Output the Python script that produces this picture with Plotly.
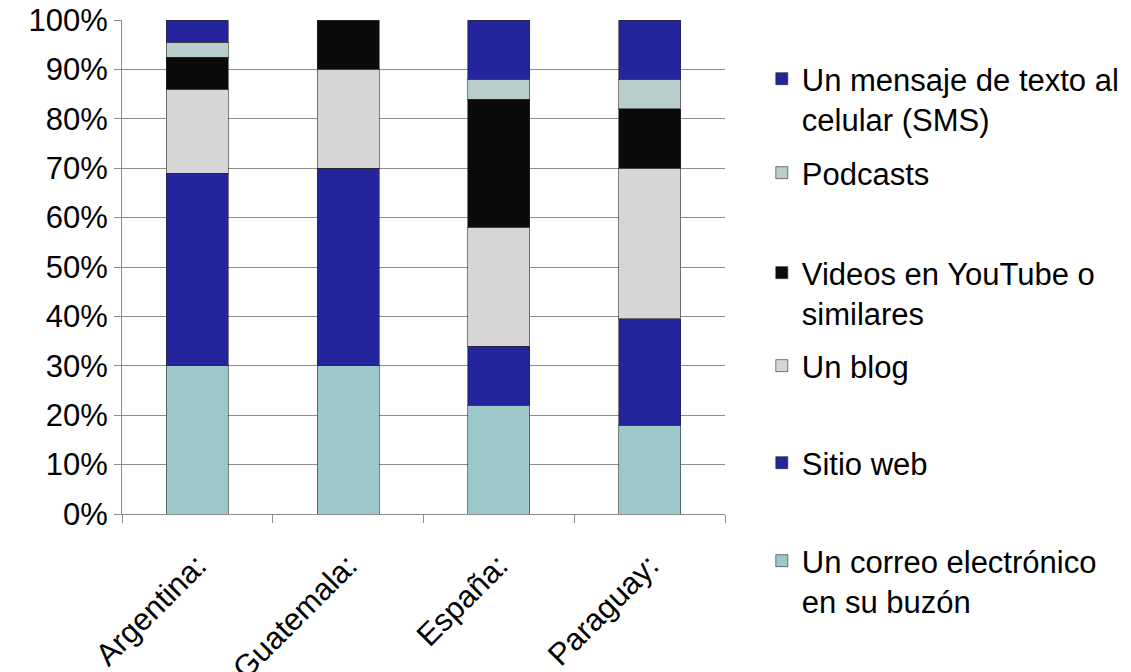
import plotly.graph_objects as go

categories = ["Argentina:", "Guatemala:", "España:", "Paraguay:"]

series_names = [
    "Un correo electrónico<br>en su buzón",
    "Sitio web",
    "Un blog",
    "Videos en YouTube o<br>similares",
    "Podcasts",
    "Un mensaje de texto al<br>celular (SMS)",
]
email = [30, 30, 22, 18]
sitio = [39, 40, 12, 21.5]
blog = [17, 20, 24, 30.5]
videos = [6.5, 10, 26, 12]
podcasts = [3, 0, 4, 6]
sms = [4.5, 0, 12, 12]

values = [email, sitio, blog, videos, podcasts, sms]
colors = ["#9cc8cb", "#24249c", "#d6d6d6", "#0b0b0b", "#b8cdcc", "#24249c"]

# first-line centre rows of legend entries (pixels)
legend_pix_y = [562, 464, 367, 274, 174, 80]

FONT = "Liberation Sans, Arial, sans-serif"
TOP, BOTTOM = 20, 514
H = 672
LEG_OFFSET = 28

fig = go.Figure()
legend_layouts = {}
for i, (name, vals, col) in enumerate(zip(series_names, values, colors)):
    lname = "legend" if i == 0 else f"legend{i+1}"
    fig.add_trace(go.Bar(
        x=categories, y=vals, name=name,
        marker=dict(color=col, line=dict(color="rgba(40,40,40,0.6)", width=1)),
        legend=lname,
    ))
    ypaper = (BOTTOM - (legend_pix_y[i] - LEG_OFFSET)) / (BOTTOM - TOP)
    legend_layouts[lname] = dict(
        x=1.061, xanchor="left", y=ypaper, yanchor="top",
        valign="top", bgcolor="rgba(0,0,0,0)",
        font=dict(family=FONT, size=31, color="#000"),
        itemclick=False, itemdoubleclick=False,
    )

fig.update_layout(
    barmode="stack",
    bargap=0.59,
    width=1131, height=672,
    margin=dict(l=122, r=406, t=TOP, b=H - BOTTOM, autoexpand=False),
    plot_bgcolor="white", paper_bgcolor="white",
    font=dict(family=FONT, size=31, color="#000"),
    showlegend=True,
    **legend_layouts,
)
fig.update_yaxes(
    range=[0, 100], dtick=10, ticksuffix="%",
    showgrid=True, gridcolor="#8c8c8c", gridwidth=1,
    showline=True, linecolor="#8c8c8c", linewidth=1,
    ticks="outside", ticklen=7, tickcolor="#8c8c8c",
    zeroline=False, automargin=False,
    tickfont=dict(family=FONT, size=31, color="#000"),
)
fig.update_xaxes(
    showline=True, linecolor="#8c8c8c", linewidth=1,
    ticks="outside", ticklen=8, tickcolor="#8c8c8c",
    tickson="boundaries", tickangle=-45, automargin=False,
    ticklabelstandoff=20,
    tickfont=dict(family=FONT, size=31, color="#000"),
)

fig.write_html("out.html")
